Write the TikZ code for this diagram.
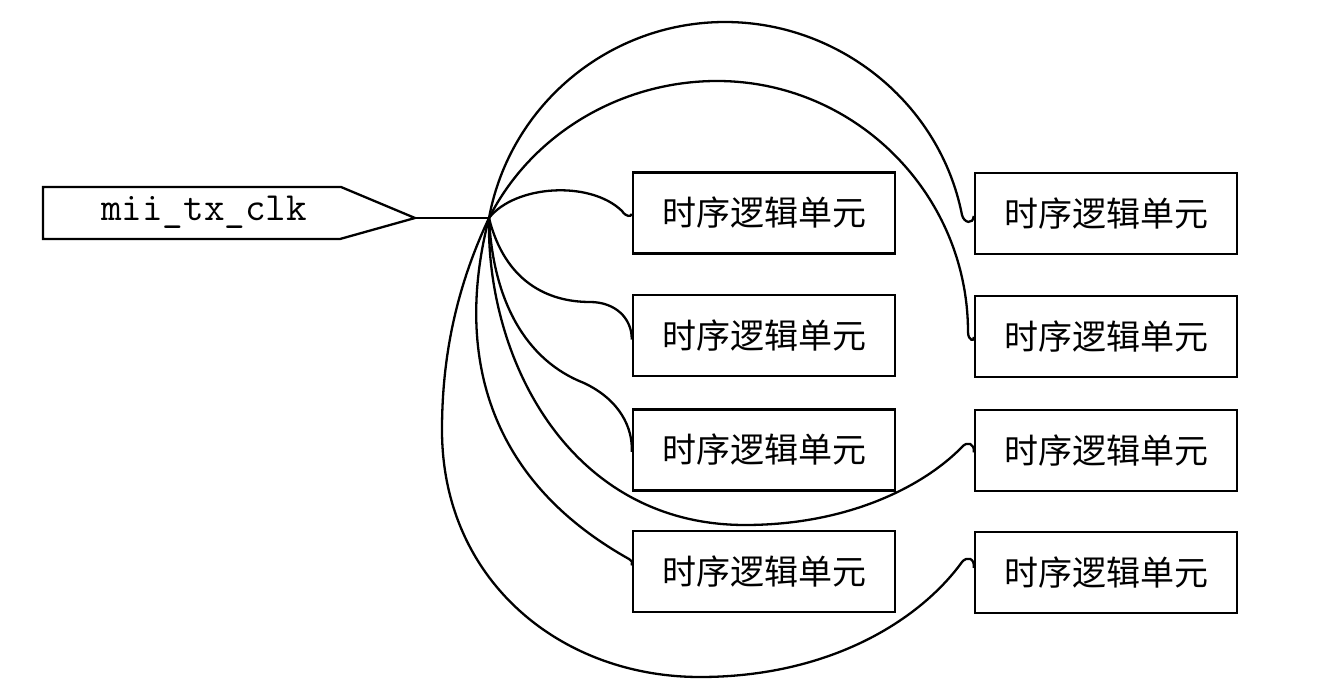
\documentclass[tikz,border=0pt]{standalone}
\usepackage{fontspec}
\newfontfamily\cjk{Noto Sans CJK SC}
\usetikzlibrary{calc}
\begin{document}
\begin{tikzpicture}[x=1pt,y=-1pt,
  box/.style={draw, line width=2.5pt, minimum width=262pt, minimum height=81pt, inner sep=0pt,
    font=\cjk\fontsize{34}{34}\selectfont},
  wire/.style={line width=2.3pt},
  port/.style={draw, line width=2.3pt, line join=miter},
  lbl/.style={inner sep=0pt, font=\ttfamily\fontsize{40}{40}\selectfont}
]
\useasboundingbox (0,0) rectangle (1318,692);

% input port
\draw[port] (43,187) -- (341,187) -- (415,218) -- (340,239) -- (43,239) -- cycle;
\node[lbl] (clk) at (204,212) {mii\_tx\_clk};
\coordinate (tip) at (415,218);
\coordinate (hub) at (489,218);

% boxes
\node[box] (a1) at (764,213)   {时序逻辑单元};
\node[box] (a2) at (764,335.5) {时序逻辑单元};
\node[box] (a3) at (764,450)   {时序逻辑单元};
\node[box] (a4) at (764,571.5) {时序逻辑单元};
\node[box] (b1) at (1106,213.5) {时序逻辑单元};
\node[box] (b2) at (1106,336.5) {时序逻辑单元};
\node[box] (b3) at (1106,450.5) {时序逻辑单元};
\node[box] (b4) at (1106,572.5) {时序逻辑单元};

% connectors
\draw[wire] (tip) -- (hub);
\draw[wire] (hub) .. controls (515,185) and (590,180) .. (622,211)
  .. controls (626,217) and (631,217) .. ($(a1.west)+(0,1)$);
\draw[wire] (hub) .. controls (505,282) and (548,302) .. (590,302)
  .. controls (615,302) and (632,318) .. ($(a2.west)+(0,4)$);
\draw[wire] (hub) .. controls (493,300) and (525,360) .. (584,383)
  .. controls (620,400) and (633,428) .. ($(a3.west)+(0,2)$);
\draw[wire] (hub) .. controls (460,330) and (470,470) .. (629,559)
  .. controls (632,561) and (633,563) .. ($(a4.west)+(0,-6)$);
\draw[wire] (hub) .. controls (510,104) and (610,22) .. (725,22)
  .. controls (839,22) and (940,103) .. (962,215)
  .. controls (964,223) and (973,225) .. ($(b1.west)+(0,2.5)$);
\draw[wire] (hub) .. controls (532,133) and (622,81) .. (717,81)
  .. controls (855.6,81) and (968,194.4) .. (968,332)
  .. controls (968,341) and (975,342) .. ($(b2.west)+(0,0.5)$);
\draw[wire] (hub) .. controls (486,360) and (570,525) .. (745,525)
  .. controls (850,525) and (925,485) .. (962,447)
  .. controls (967,441) and (975,443) .. ($(b3.west)+(0,2)$);
\draw[wire] (hub) .. controls (455,290) and (442,360) .. (442,430)
  .. controls (442,580) and (560,677) .. (700,677)
  .. controls (830,677) and (920,620) .. (962,562)
  .. controls (967,556) and (975,558) .. ($(b4.west)+(0,-4.5)$);
\end{tikzpicture}
\end{document}
